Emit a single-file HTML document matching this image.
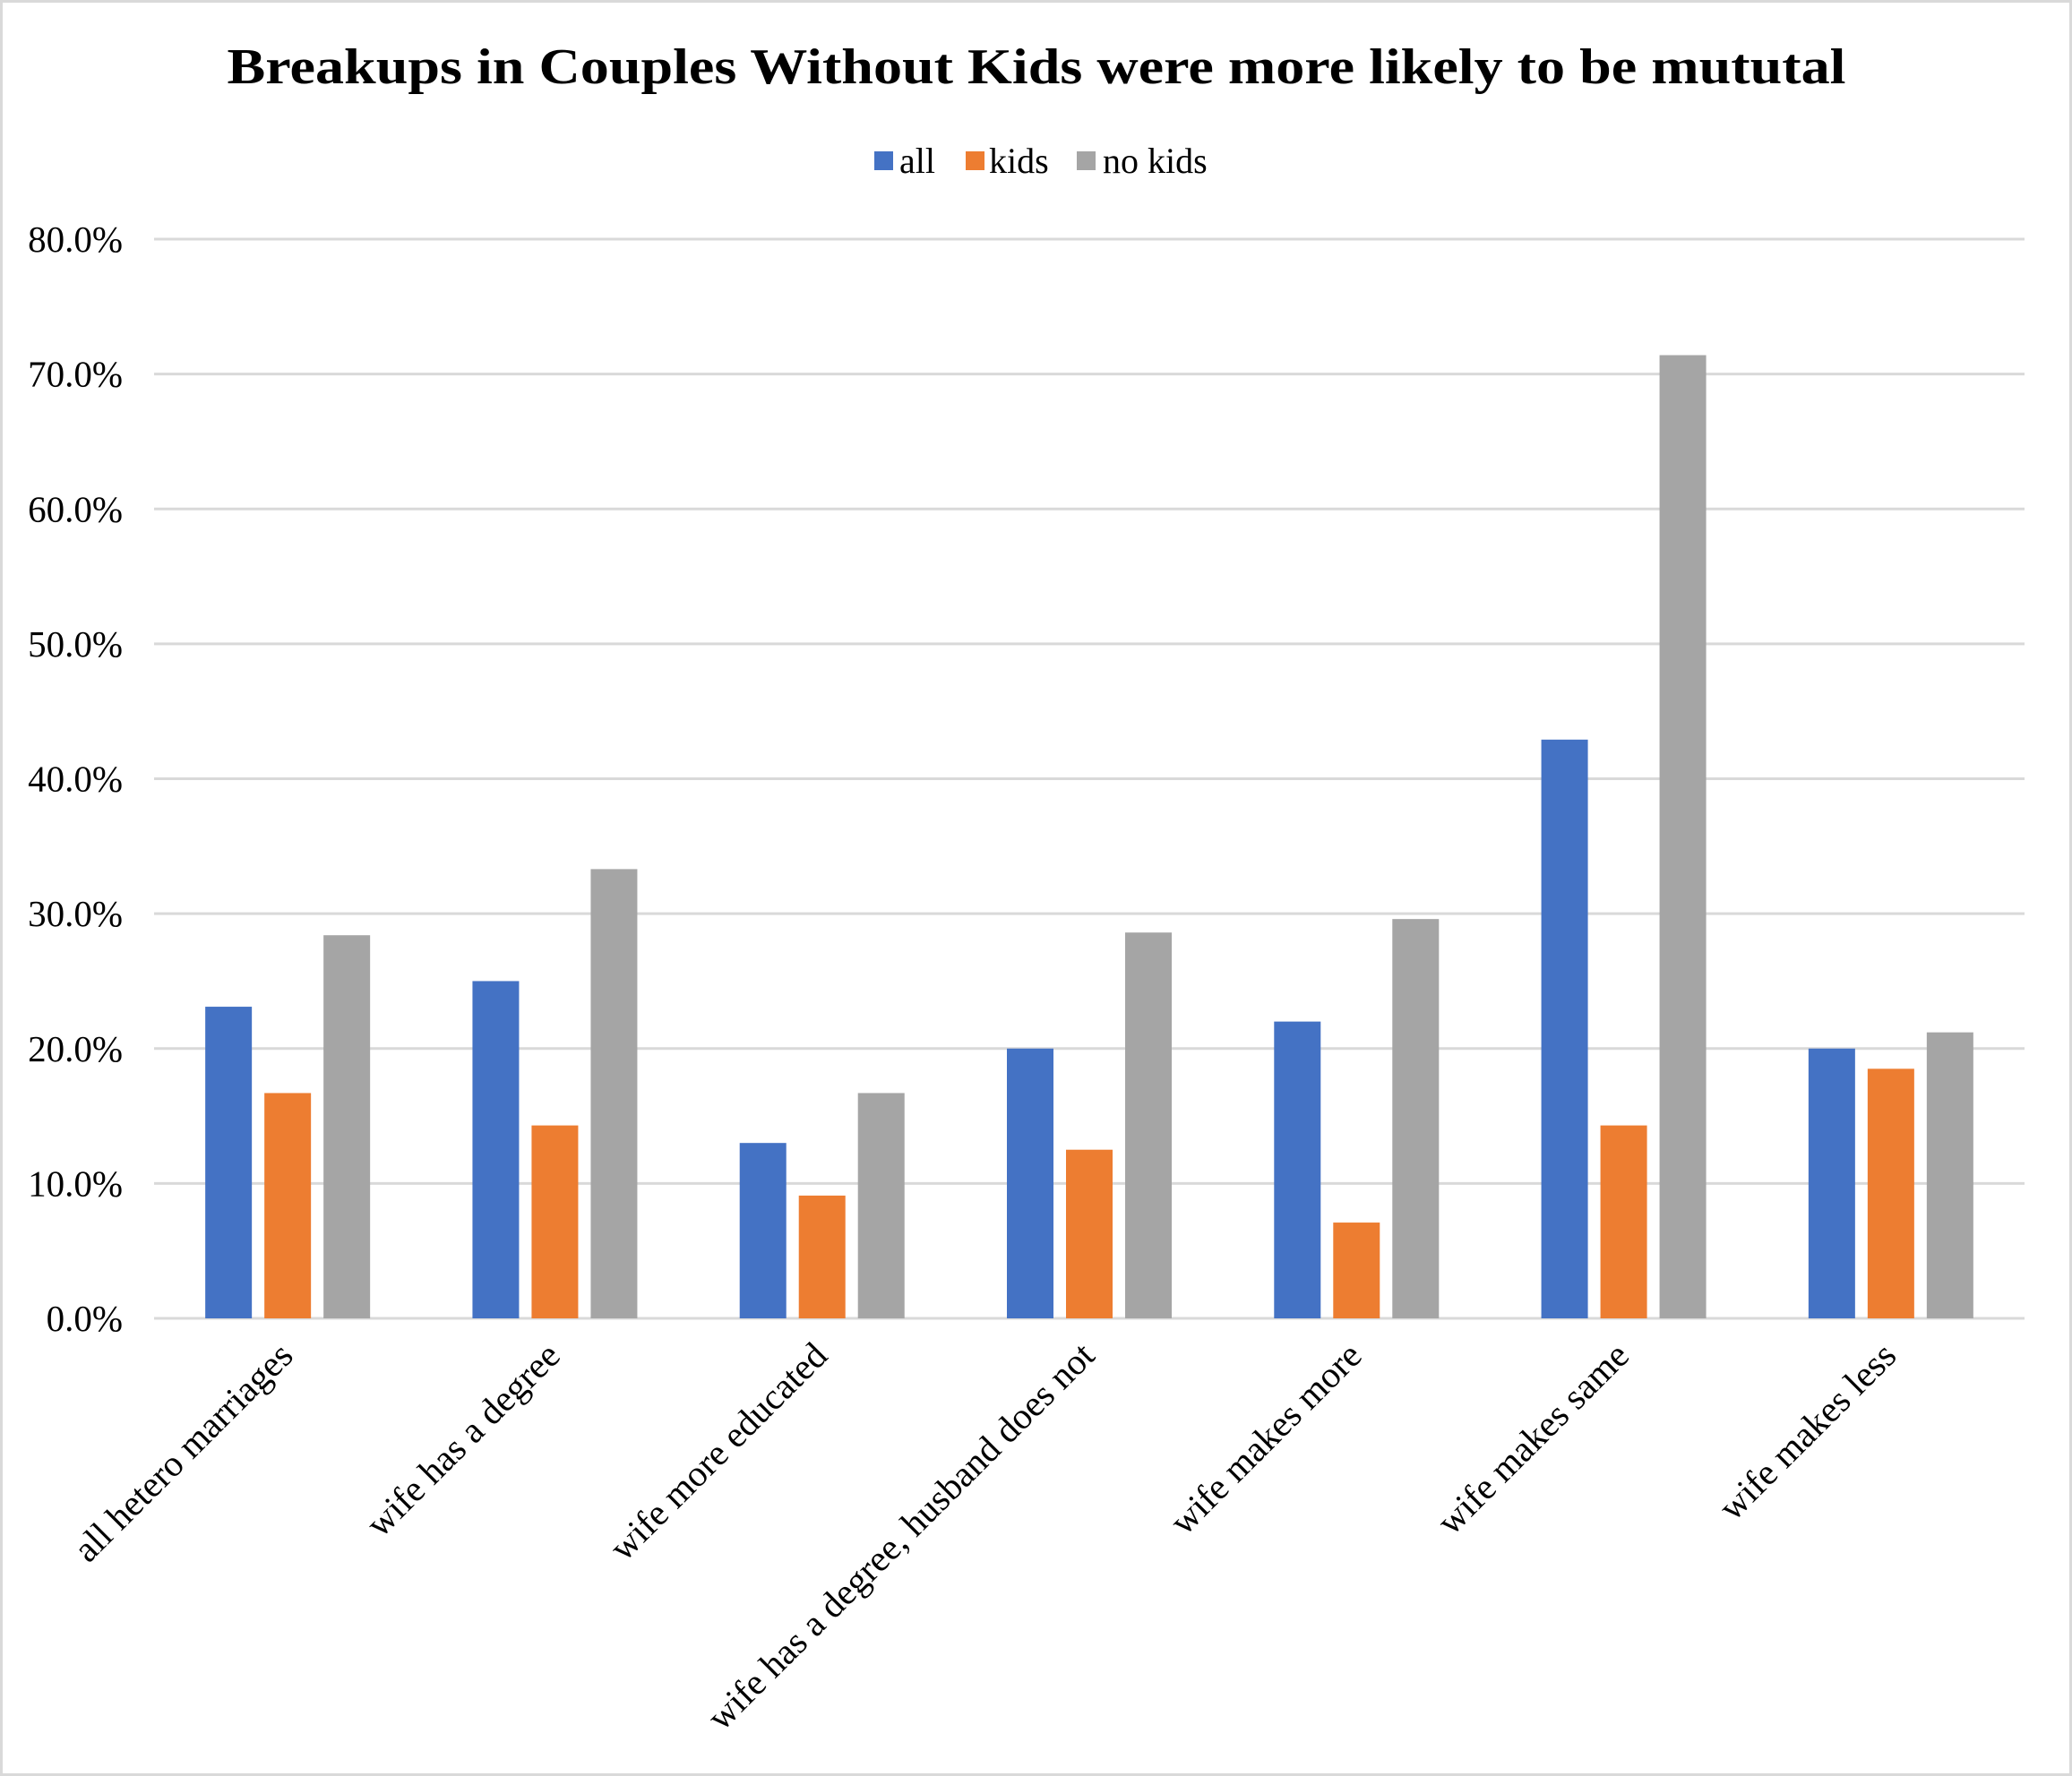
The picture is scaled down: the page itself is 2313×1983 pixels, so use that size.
<!DOCTYPE html>
<html><head><meta charset="utf-8"><style>
html,body{margin:0;padding:0;background:#fff}
svg{display:block}
text{font-family:"Liberation Serif",serif;fill:#000}
</style></head><body>
<svg id="chart" width="2313" height="1983" viewBox="0 0 2313 1983">
<rect x="1.5" y="1.5" width="2310" height="1980" fill="#fff" stroke="#d9d9d9" stroke-width="3"/>
<text x="1157" y="93" text-anchor="middle" font-size="56" font-weight="bold" textLength="1807" lengthAdjust="spacingAndGlyphs">Breakups in Couples Without Kids were more likely to be mututal</text>
<g>
<rect x="976" y="169" width="21" height="21" fill="#4472c4"/>
<text x="1004" y="193" font-size="40">all</text>
<rect x="1078" y="169" width="21" height="21" fill="#ed7d31"/>
<text x="1104" y="193" font-size="40">kids</text>
<rect x="1202" y="169" width="21" height="21" fill="#a5a5a5"/>
<text x="1231" y="193" font-size="40">no kids</text>
</g>
<g id="grid"></g><g id="bars"></g><g id="labels"></g>
</svg>
<script>
const categories = ["all hetero marriages","wife has a degree","wife more educated","wife has a degree, husband does not","wife makes more","wife makes same","wife makes less"];
const allValues = [23.1, 25.0, 13.0, 20.0, 22.0, 42.9, 20.0];
const kidsValues = [16.7, 14.3, 9.1, 12.5, 7.1, 14.3, 18.5];
const noKidsValues = [28.4, 33.3, 16.7, 28.6, 29.6, 71.4, 21.2];
const yTicks = [0, 10, 20, 30, 40, 50, 60, 70, 80];
const yTickLabels = ["0.0%","10.0%","20.0%","30.0%","40.0%","50.0%","60.0%","70.0%","80.0%"];

const NS = "http://www.w3.org/2000/svg";
const X0 = 172, X1 = 2260, Y0 = 1472, Y1 = 267, YMAX = 80;
const groupW = (X1 - X0) / categories.length;
const barW = 52, barStep = 66;
function y(v){ return Y0 - (v / YMAX) * (Y0 - Y1); }
function xc(i){ return X0 + groupW * (i + 0.5); }
function mk(tag, attrs, parent){ const e = document.createElementNS(NS, tag); for (const k in attrs) e.setAttribute(k, attrs[k]); parent.appendChild(e); return e; }

const grid = document.getElementById('grid');
yTicks.forEach((t, i) => {
  const l = mk('line', {x1: X0, x2: X1, y1: y(t), y2: y(t), stroke: '#d9d9d9', 'stroke-width': 3}, grid);
  
  
  const tx = mk('text', {x: 137, y: y(t) + 14, 'text-anchor': 'end', 'font-size': 41}, grid);
  tx.textContent = yTickLabels[i];
  
  
});

const bars = document.getElementById('bars');
const series = [[allValues, '#4472c4', 'all'], [kidsValues, '#ed7d31', 'kids'], [noKidsValues, '#a5a5a5', 'no-kids']];
categories.forEach((c, i) => {
  series.forEach((s, j) => {
    const v = s[0][i];
    const cx = xc(i) + (j - 1) * barStep;
    const r = mk('rect', {x: cx - barW / 2, y: y(v), width: barW, height: Y0 - y(v), fill: s[1]}, bars);
    
    
  });
});

const labels = document.getElementById('labels');
categories.forEach((c, i) => {
  const ax = xc(i) + 8, ay = 1516;
  const t = mk('text', {x: ax, y: ay, 'text-anchor': 'end', 'font-size': 41, transform: 'rotate(-45 ' + ax + ' ' + ay + ')'}, labels);
  t.textContent = c;
  
  
});
</script>
</body></html>
